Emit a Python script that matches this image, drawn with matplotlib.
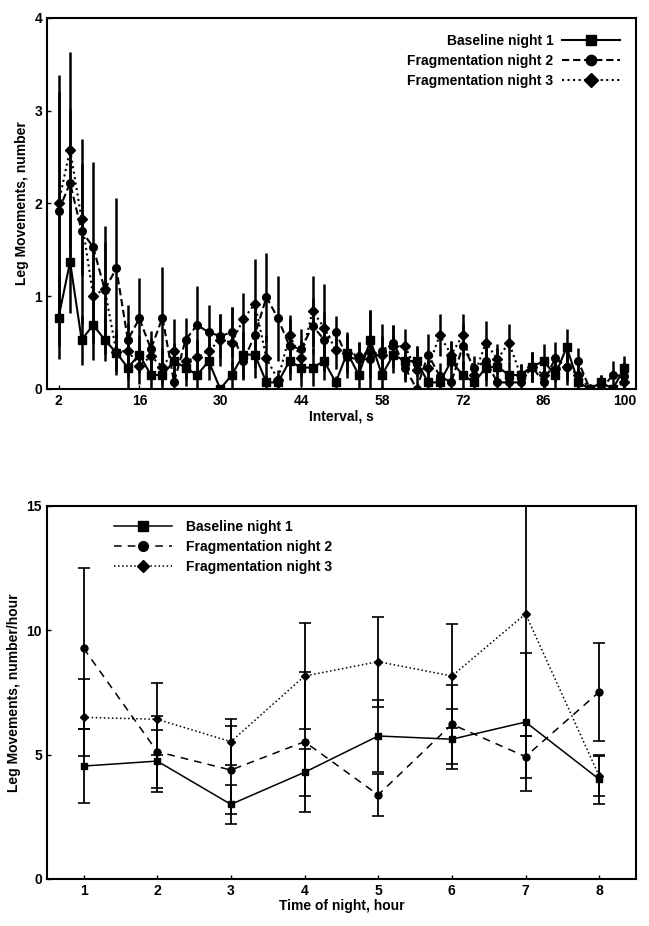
import matplotlib
matplotlib.use('Agg')
import matplotlib.pyplot as plt

plt.rcParams['font.family'] = ['Liberation Sans', 'DejaVu Sans']
plt.rcParams['font.weight'] = 'bold'
plt.rcParams['font.size'] = 10

# ---- top panel: leg movements per interval ----
intervals = list(range(2, 101, 2))

base_int = [0.77, 1.37, 0.53, 0.69, 0.53, 0.39, 0.23, 0.37, 0.15, 0.15,
            0.30, 0.23, 0.15, 0.30, 0.00, 0.15, 0.37, 0.37, 0.07, 0.07,
            0.30, 0.23, 0.23, 0.30, 0.07, 0.39, 0.15, 0.53, 0.15, 0.37,
            0.30, 0.30, 0.07, 0.07, 0.30, 0.15, 0.07, 0.23, 0.24, 0.15,
            0.15, 0.24, 0.30, 0.15, 0.45, 0.07, 0.00, 0.07, 0.00, 0.23]
base_int_err = [0.45, 0.55, 0.27, 0.38, 0.23, 0.20, 0.23, 0.20, 0.15, 0.15,
                0.20, 0.20, 0.15, 0.20, 0.00, 0.15, 0.25, 0.25, 0.07, 0.07,
                0.20, 0.20, 0.20, 0.20, 0.07, 0.22, 0.15, 0.32, 0.15, 0.20,
                0.20, 0.16, 0.07, 0.07, 0.22, 0.15, 0.07, 0.20, 0.20, 0.15,
                0.12, 0.16, 0.18, 0.15, 0.20, 0.07, 0.03, 0.08, 0.00, 0.12]

frag2_int = [1.92, 2.22, 1.70, 1.53, 1.07, 1.30, 0.53, 0.76, 0.43, 0.77,
             0.07, 0.53, 0.69, 0.61, 0.57, 0.61, 0.30, 0.58, 0.99, 0.76,
             0.46, 0.43, 0.68, 0.53, 0.61, 0.34, 0.32, 0.32, 0.41, 0.50,
             0.23, 0.00, 0.37, 0.14, 0.07, 0.46, 0.23, 0.30, 0.07, 0.07,
             0.07, 0.24, 0.07, 0.33, 0.24, 0.30, 0.00, 0.00, 0.15, 0.14]
frag2_int_err = [1.46, 0.80, 1.00, 0.92, 0.69, 0.76, 0.37, 0.44, 0.19, 0.54,
                 0.07, 0.23, 0.42, 0.29, 0.24, 0.27, 0.20, 0.35, 0.48, 0.46,
                 0.30, 0.22, 0.30, 0.30, 0.18, 0.22, 0.19, 0.20, 0.29, 0.19,
                 0.15, 0.00, 0.22, 0.14, 0.07, 0.25, 0.12, 0.20, 0.07, 0.07,
                 0.07, 0.16, 0.07, 0.18, 0.20, 0.14, 0.00, 0.00, 0.15, 0.15]

frag3_int = [2.00, 2.58, 1.83, 1.00, 1.08, 0.40, 0.41, 0.25, 0.35, 0.24,
             0.41, 0.30, 0.34, 0.41, 0.53, 0.50, 0.75, 0.92, 0.33, 0.10,
             0.58, 0.33, 0.84, 0.66, 0.42, 0.39, 0.36, 0.40, 0.37, 0.46,
             0.46, 0.20, 0.23, 0.58, 0.37, 0.58, 0.15, 0.50, 0.32, 0.50,
             0.15, 0.24, 0.15, 0.22, 0.24, 0.15, 0.00, 0.00, 0.00, 0.07]
frag3_int_err = [1.20, 1.05, 0.60, 0.50, 0.50, 0.25, 0.30, 0.20, 0.20, 0.20,
                 0.34, 0.20, 0.20, 0.20, 0.28, 0.38, 0.28, 0.48, 0.25, 0.10,
                 0.22, 0.20, 0.38, 0.47, 0.20, 0.20, 0.15, 0.45, 0.20, 0.23,
                 0.19, 0.26, 0.15, 0.23, 0.15, 0.23, 0.10, 0.23, 0.16, 0.20,
                 0.12, 0.16, 0.15, 0.15, 0.15, 0.15, 0.00, 0.15, 0.00, 0.10]

# ---- bottom panel: leg movements per hour of night ----
hours = [1, 2, 3, 4, 5, 6, 7, 8]
base_hr = [4.54, 4.74, 3.00, 4.29, 5.75, 5.62, 6.31, 4.01]
base_hr_err = [1.48, 1.25, 0.77, 0.95, 1.45, 1.20, 2.79, 0.98]
frag2_hr = [9.28, 5.12, 4.38, 5.52, 3.38, 6.22, 4.92, 7.52]
frag2_hr_err = [3.24, 1.45, 1.78, 2.82, 0.85, 1.60, 0.84, 1.96]
frag3_hr = [6.50, 6.42, 5.52, 8.16, 8.74, 8.16, 10.66, 4.14]
frag3_hr_err = [1.55, 1.45, 0.93, 2.12, 1.81, 2.09, 4.90, 0.80]

labels = ['Baseline night 1', 'Fragmentation night 2', 'Fragmentation night 3']

fig = plt.figure(figsize=(6.49, 9.26), dpi=100)

# top panel
ax1 = fig.add_axes([0.0724, 0.58, 0.9076, 0.4006])
styles = [('-', 's', 5.5), ((0, (3.5, 1.8)), 'o', 5.5), (':', 'D', 5.0)]
series = [(base_int, base_int_err), (frag2_int, frag2_int_err), (frag3_int, frag3_int_err)]
handles1 = []
for (ls, mk, ms), (vals, err), lab in zip(styles, series, labels):
    c = ax1.errorbar(intervals, vals, yerr=err, color='black', linestyle=ls,
                     marker=mk, markersize=ms, linewidth=1.5, elinewidth=1.8,
                     capsize=0, label=lab)
    handles1.append(c.lines[0])
ax1.set_xlim(0, 102)
ax1.set_ylim(0, 4)
ax1.set_xticks([2, 16, 30, 44, 58, 72, 86, 100])
ax1.set_yticks([0, 1, 2, 3, 4])
ax1.tick_params(direction='in', length=3, width=1)
ax1.set_xlabel('Interval, s', fontweight='bold', labelpad=1)
ax1.set_ylabel('Leg Movements, number', fontweight='bold')
for sp in ax1.spines.values():
    sp.set_linewidth(1.5)
leg1 = ax1.legend(handles1, labels, loc='upper right', frameon=False,
                  markerfirst=False, handlelength=4.2, labelspacing=0.42,
                  borderaxespad=0.75, handletextpad=0.6, markerscale=1.35)
for t in leg1.get_texts():
    t.set_fontweight('bold')

# bottom panel
ax2 = fig.add_axes([0.072, 0.0508, 0.908, 0.4028])
styles2 = [('-', 's', 5), ((0, (5, 4)), 'o', 5), (':', 'D', 4.5)]
series2 = [(base_hr, base_hr_err), (frag2_hr, frag2_hr_err), (frag3_hr, frag3_hr_err)]
handles2 = []
for (ls, mk, ms), (vals, err), lab in zip(styles2, series2, labels):
    c = ax2.errorbar(hours, vals, yerr=err, color='black', linestyle=ls,
                     marker=mk, markersize=ms, linewidth=1.1, elinewidth=1.3,
                     capsize=4, capthick=1.2, label=lab)
    handles2.append(c.lines[0])
ax2.set_xlim(0.5, 8.5)
ax2.set_ylim(0, 15)
ax2.set_xticks(hours)
ax2.set_yticks([0, 5, 10, 15])
ax2.tick_params(direction='in', length=3, width=1)
ax2.set_xlabel('Time of night, hour', fontweight='bold', labelpad=1)
ax2.set_ylabel('Leg Movements, number/hour', fontweight='bold')
for sp in ax2.spines.values():
    sp.set_linewidth(1.5)
leg2 = ax2.legend(handles2, labels, loc='upper left', frameon=False,
                  handlelength=4.2, labelspacing=0.45, borderaxespad=0.6,
                  handletextpad=1.0, bbox_to_anchor=(0.09, 1.0),
                  markerscale=1.4)
for t in leg2.get_texts():
    t.set_fontweight('bold')

fig.savefig('out.png', dpi=100)
